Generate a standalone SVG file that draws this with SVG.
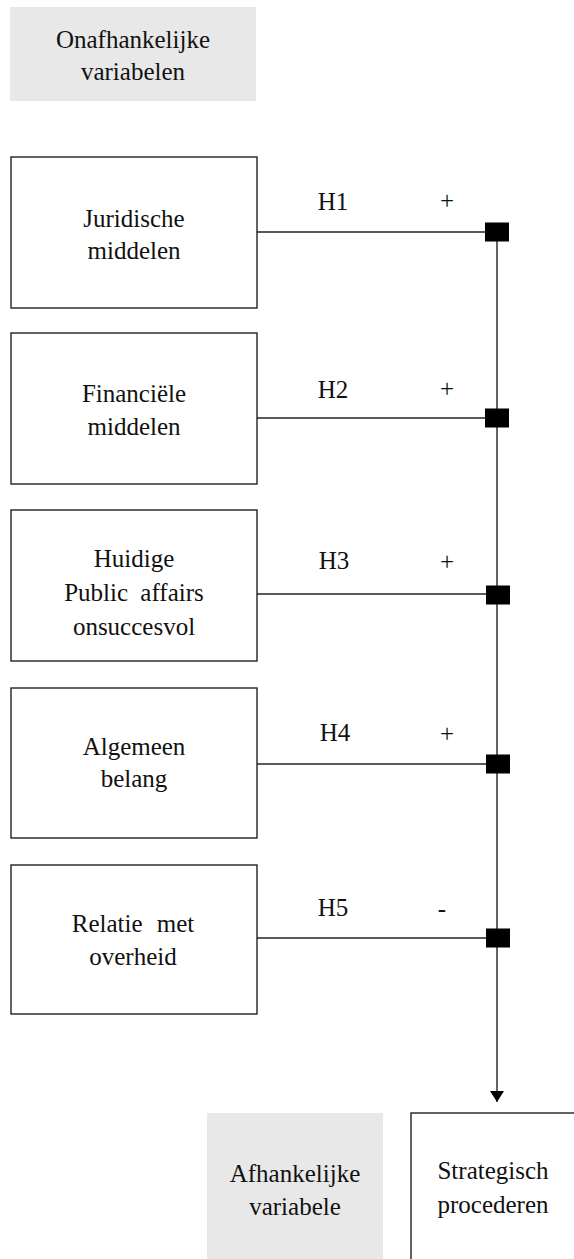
<svg xmlns="http://www.w3.org/2000/svg" width="574" height="1259" viewBox="0 0 574 1259">
<style>
  text { font-size: 25px; fill: #111; text-anchor: middle; }
  .box { fill: #fff; stroke: #222; stroke-width: 1.4; }
  .label { fill: #e8e8e8; stroke: none; }
  .conn { stroke: #222; stroke-width: 1.4; fill: none; }
  .sq { fill: #000; }
</style>
<defs>
  <marker id="arr" markerWidth="14" markerHeight="11" refX="7" refY="11" orient="0" markerUnits="userSpaceOnUse">
    <path d="M0,0 L14,0 L7,11 Z" fill="#000"/>
  </marker>
</defs>
<rect width="574" height="1259" fill="#fff"/>
<g font-family="'Liberation Serif', 'Times New Roman', 'DejaVu Serif', serif">
<g id="label-onafhankelijk">
  <rect class="label" x="10" y="7" width="246" height="94"/>
  <text x="133" y="48">Onafhankelijke</text>
  <text x="133" y="80">variabelen</text>
</g>

<g id="connectors">
  <line class="conn" x1="257" y1="232" x2="497" y2="232"/>
  <line class="conn" x1="257" y1="418" x2="497" y2="418"/>
  <line class="conn" x1="257" y1="594" x2="497" y2="594"/>
  <line class="conn" x1="257" y1="764" x2="497" y2="764"/>
  <line class="conn" x1="257" y1="938" x2="497" y2="938"/>
  <line class="conn" x1="497" y1="232" x2="497" y2="1102" marker-end="url(#arr)"/>
  <rect class="sq" x="485" y="222.5" width="24" height="19"/>
  <rect class="sq" x="485" y="408.5" width="24" height="19"/>
  <rect class="sq" x="486" y="585.5" width="24" height="19"/>
  <rect class="sq" x="486" y="754.5" width="24" height="19"/>
  <rect class="sq" x="486" y="928.5" width="24" height="19"/>
  <text x="333" y="210">H1</text>
  <text x="447" y="209">+</text>
  <text x="333" y="398">H2</text>
  <text x="447" y="397">+</text>
  <text x="334" y="569">H3</text>
  <text x="447" y="570">+</text>
  <text x="335" y="741">H4</text>
  <text x="447" y="742">+</text>
  <text x="333" y="916">H5</text>
  <text x="442" y="917">-</text>
</g>

<g id="node-juridische">
  <rect class="box" x="11" y="157" width="246" height="151"/>
  <text x="134" y="227">Juridische</text>
  <text x="134" y="259">middelen</text>
</g>

<g id="node-financiele">
  <rect class="box" x="11" y="333" width="246" height="151"/>
  <text x="134" y="402">Financiële</text>
  <text x="134" y="435">middelen</text>
</g>

<g id="node-huidige">
  <rect class="box" x="11" y="510" width="246" height="151"/>
  <text x="134" y="567">Huidige</text>
  <text x="134" y="601" word-spacing="6">Public affairs</text>
  <text x="134" y="635">onsuccesvol</text>
</g>

<g id="node-algemeen">
  <rect class="box" x="11" y="688" width="246" height="150"/>
  <text x="134" y="755">Algemeen</text>
  <text x="134" y="787">belang</text>
</g>

<g id="node-relatie">
  <rect class="box" x="11" y="865" width="246" height="149"/>
  <text x="133" y="932" word-spacing="8">Relatie met</text>
  <text x="133" y="965">overheid</text>
</g>

<g id="label-afhankelijk">
  <rect class="label" x="207" y="1113" width="176" height="160"/>
  <text x="295" y="1182">Afhankelijke</text>
  <text x="295" y="1215">variabele</text>
</g>

<g id="node-strategisch">
  <rect class="box" x="411" y="1113" width="180" height="160"/>
  <text x="493" y="1179">Strategisch</text>
  <text x="493" y="1213">procederen</text>
</g>
</g>
</svg>
